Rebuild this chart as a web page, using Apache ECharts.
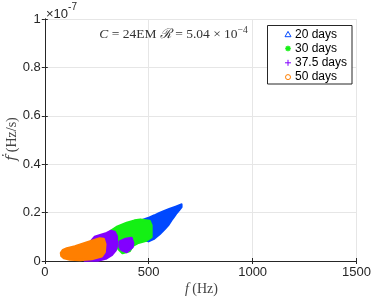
<!DOCTYPE html>
<html>
<head>
<meta charset="utf-8">
<script src="https://cdn.jsdelivr.net/npm/echarts@6/dist/echarts.min.js"></script>
<style>
html,body{margin:0;padding:0;background:#fff;}
#c{width:374px;height:298px;}
</style>
</head>
<body>
<div id="c"></div>
<script>
// Axis ticks
const xTickLabels = ['0', '500', '1000', '1500'];
const yTickLabels = ['0', '0.2', '0.4', '0.6', '0.8', '1'];
const seriesNames = ['20 days', '30 days', '37.5 days', '50 days'];

// Cloud outlines: f (Hz) and fdot (x 1e-7 Hz/s)
const blueF    = [657, 630, 599, 575, 552, 528, 504, 480, 456, 432, 446, 499, 523, 552, 565, 580, 595, 609, 620, 633, 645, 657];
const blueFdot = [0.233, 0.224, 0.214, 0.206, 0.198, 0.188, 0.179, 0.172, 0.165, 0.148, 0.095, 0.082, 0.091, 0.111, 0.122, 0.136, 0.150, 0.169, 0.182, 0.198, 0.210, 0.223];

const greenF    = [317, 350, 394, 432, 460, 504, 513, 513, 489, 446, 422, 408, 374, 355, 346, 336, 317];
const greenFdot = [0.124, 0.142, 0.157, 0.167, 0.171, 0.165, 0.148, 0.099, 0.085, 0.074, 0.062, 0.041, 0.033, 0.049, 0.062, 0.087, 0.103];

const purpleF    = [240, 274, 298, 317, 336, 346, 348, 341, 322, 293, 255, 192, 200];
const purpleFdot = [0.099, 0.109, 0.115, 0.124, 0.120, 0.103, 0.066, 0.045, 0.025, 0.010, 0.002, 0.002, 0.060];

const purpleBlobF    = [360, 389, 417, 425, 422, 394, 370, 360];
const purpleBlobFdot = [0.080, 0.091, 0.095, 0.074, 0.058, 0.037, 0.045, 0.058];

const orangeF    = [78, 87, 106, 145, 207, 264, 283, 291, 288, 274, 226, 168, 121, 92, 80];
const orangeFdot = [0.033, 0.045, 0.052, 0.060, 0.078, 0.093, 0.091, 0.070, 0.037, 0.019, 0.008, 0.004, 0.006, 0.012, 0.021];

const COL = { blue: '#0048ff', green: '#14f014', purple: '#8200ff', orange: '#ff7f00' };
const AX = '#262626';

function cloud(name, xs, ys, color) {
  return {
    name: name,
    type: 'custom',
    coordinateSystem: 'cartesian2d',
    xAxisIndex: 0, yAxisIndex: 0,
    silent: true,
    data: [[xs[0], ys[0]]],
    renderItem: function (params, api) {
      const pts = xs.map((x, i) => api.coord([x, ys[i]]));
      return {
        type: 'polygon',
        shape: { points: pts },
        style: { fill: color, stroke: color, lineWidth: 2.5, lineJoin: 'round' }
      };
    }
  };
}

// Legend drawn as graphic elements
const LX = 288, LT = 34.2, LS = 14.3;
function ln(x1, y1, x2, y2, c, w) {
  return { type: 'line', z: 101, shape: { x1: x1, y1: y1, x2: x2, y2: y2 }, style: { stroke: c, lineWidth: w } };
}
function legendIcons(i) {
  const y = LT + i * LS;
  if (i === 0) return [{ type: 'polygon', z: 101, shape: { points: [[LX - 3, y + 2.5], [LX + 3, y + 2.5], [LX, y - 2.8]] },
    style: { fill: 'none', stroke: COL.blue, lineWidth: 1 } }];
  if (i === 1) return [
    ln(LX - 2.8, y, LX + 2.8, y, COL.green, 1.6),
    ln(LX, y - 2.8, LX, y + 2.8, COL.green, 1.6),
    ln(LX - 2, y - 2, LX + 2, y + 2, COL.green, 1.6),
    ln(LX - 2, y + 2, LX + 2, y - 2, COL.green, 1.6) ];
  if (i === 2) return [
    ln(LX - 3, y, LX + 3, y, COL.purple, 1),
    ln(LX, y - 3, LX, y + 3, COL.purple, 1) ];
  return [{ type: 'circle', z: 101, shape: { cx: LX, cy: y, r: 2.5 }, style: { fill: 'none', stroke: COL.orange, lineWidth: 1 } }];
}
let legendGraphics = [{ type: 'rect', z: 100, shape: { x: 267.5, y: 25.5, width: 84.5, height: 58.5 },
  style: { fill: '#fff', stroke: AX, lineWidth: 1 } }];
seriesNames.forEach((n, i) => {
  legendGraphics = legendGraphics.concat(legendIcons(i));
  legendGraphics.push({ type: 'text', z: 101, x: 295, y: LT + i * LS,
    style: { text: n, fontSize: 12, fontFamily: 'Liberation Sans', fill: '#000', verticalAlign: 'middle' } });
});

const chart = echarts.init(document.getElementById('c'), null, { renderer: 'canvas' });
chart.setOption({
  animation: false,
  backgroundColor: '#fff',
  grid: { left: 44.8, right: 15.7, top: 19, bottom: 37, containLabel: false },
  xAxis: [
    {
      type: 'value', min: 0, max: 1500, interval: 500, position: 'bottom',
      axisLine: { show: true, lineStyle: { color: AX, width: 1 } },
      axisTick: { show: true, inside: true, length: 3, lineStyle: { color: AX } },
      axisLabel: { color: AX, fontSize: 13, fontFamily: 'Liberation Sans', margin: 5,
        formatter: (v) => xTickLabels[Math.round(v / 500)] },
      splitLine: { show: true, lineStyle: { color: '#e6e6e6', width: 1 } }
    },
    {
      type: 'value', min: 0, max: 1500, interval: 500, position: 'top',
      axisLine: { show: true, lineStyle: { color: AX, width: 1 } },
      axisTick: { show: true, inside: true, length: 3, lineStyle: { color: AX } },
      axisLabel: { show: false }, splitLine: { show: false }
    }
  ],
  yAxis: [
    {
      type: 'value', min: 0, max: 1, interval: 0.2, position: 'left',
      axisLine: { show: true, lineStyle: { color: AX, width: 1 } },
      axisTick: { show: true, inside: true, length: 3, lineStyle: { color: AX } },
      axisLabel: { color: AX, fontSize: 13, fontFamily: 'Liberation Sans', margin: 4,
        formatter: (v) => yTickLabels[Math.round(v / 0.2)] },
      splitLine: { show: true, lineStyle: { color: '#e6e6e6', width: 1 } }
    },
    {
      type: 'value', min: 0, max: 1, interval: 0.2, position: 'right',
      axisLine: { show: true, lineStyle: { color: AX, width: 1 } },
      axisTick: { show: true, inside: true, length: 3, lineStyle: { color: AX } },
      axisLabel: { show: false }, splitLine: { show: false }
    }
  ],
  series: [
    cloud(seriesNames[0], blueF, blueFdot, COL.blue),
    cloud(seriesNames[1], greenF, greenFdot, COL.green),
    cloud(seriesNames[2], purpleF, purpleFdot, COL.purple),
    cloud(seriesNames[2], purpleBlobF, purpleBlobFdot, COL.purple),
    cloud(seriesNames[3], orangeF, orangeFdot, COL.orange)
  ],
  graphic: legendGraphics.concat([
    { type: 'text', left: 46, top: 2, z: 100,
      style: { text: '{a|×10}{b|-7}', rich: {
        a: { fontSize: 13, fontFamily: 'Liberation Sans', fill: AX, padding: [6, 0, 0, 0] },
        b: { fontSize: 10, fontFamily: 'Liberation Sans', fill: AX, verticalAlign: 'top' } } } },
    { type: 'text', x: 173.5, y: 34, z: 100,
      style: { text: '{i|C}{r| = 24EM }{c|ℛ}{r| = 5.04 × 10}{s|−4}', align: 'center', verticalAlign: 'middle', rich: {
        i: { fontSize: 13.5, fontFamily: 'Liberation Serif', fontStyle: 'italic', fill: '#333' },
        r: { fontSize: 13.5, fontFamily: 'Liberation Serif', fill: '#333' },
        c: { fontSize: 13.5, fontFamily: 'DejaVu Serif', fontStyle: 'italic', fill: '#333' },
        s: { fontSize: 9.5, fontFamily: 'Liberation Serif', fill: '#333', padding: [0, 0, 8, 0] } } } },
    { type: 'text', x: 201.5, y: 289, z: 100,
      style: { text: '{i|f} {r|(Hz)}', align: 'center', verticalAlign: 'middle', rich: {
        i: { fontSize: 14, fontFamily: 'Liberation Serif', fontStyle: 'italic', fill: '#444' },
        r: { fontSize: 14, fontFamily: 'Liberation Serif', fill: '#444' } } } },
    { type: 'text', x: 12, y: 139, rotation: Math.PI / 2, z: 100,
      style: { text: '{i|ḟ} {r|(Hz/s)}', align: 'center', verticalAlign: 'middle', rich: {
        i: { fontSize: 14, fontFamily: 'DejaVu Serif', fontStyle: 'italic', fill: '#444' },
        r: { fontSize: 14, fontFamily: 'Liberation Serif', fill: '#444' } } } }
  ])
});
</script>
</body>
</html>
